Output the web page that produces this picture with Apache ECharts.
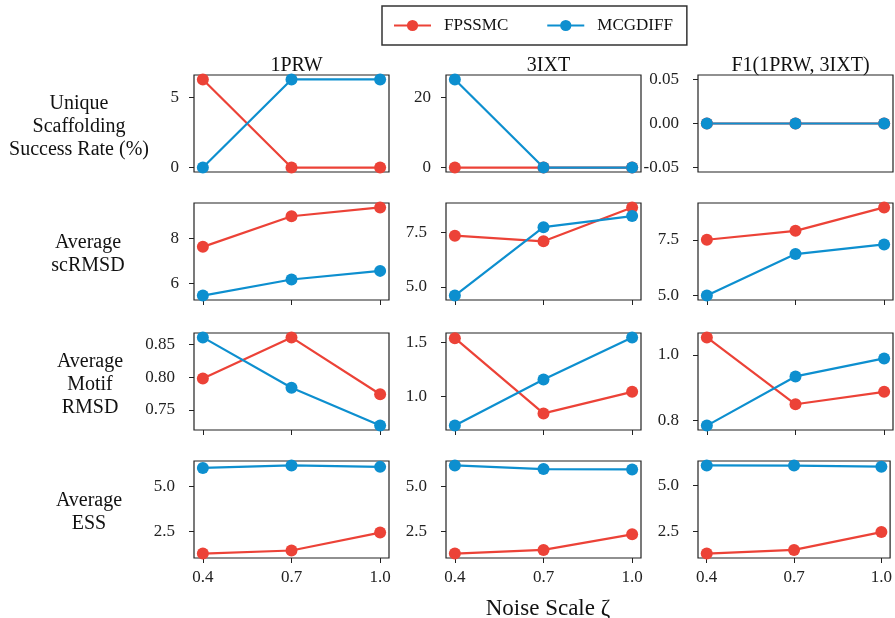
<!DOCTYPE html>
<html lang="en">

<head>
    <meta charset="UTF-8">
    <title>Noise scale comparison</title>
    <script src="https://cdn.jsdelivr.net/npm/echarts@6/dist/echarts.min.js"></script>
    <style>
        body {
            margin: 0;
            background-color: #fff;
        }

        #chart {
            width: 895px;
            height: 618px;
        }
    </style>
</head>

<body>
    <div id="chart"></div>
    <script>
        // Datos
        const noiseScale = [0.4, 0.7, 1.0];
        const targets = ['1PRW', '3IXT', 'F1(1PRW, 3IXT)'];
        const metricLabels = ['Unique\nScaffolding\nSuccess Rate (%)', 'Average\nscRMSD', 'Average\nMotif\nRMSD', 'Average\nESS'];

        // una fila por target: 1PRW, 3IXT, F1
        const fpssmcSuccess = [[6.25, 0, 0], [0, 0, 0], [0, 0, 0]];
        const mcgdiffSuccess = [[0, 6.25, 6.25], [25, 0, 0], [0, 0, 0]];
        const fpssmcScRmsd = [[7.62, 8.97, 9.36], [7.36, 7.10, 8.66], [7.50, 7.90, 8.95]];
        const mcgdiffScRmsd = [[5.47, 6.18, 6.56], [4.60, 7.75, 8.26], [5.00, 6.86, 7.29]];
        const fpssmcMotif = [[0.798, 0.861, 0.774], [1.543, 0.838, 1.04], [1.053, 0.849, 0.887]];
        const mcgdiffMotif = [[0.861, 0.784, 0.726], [0.724, 1.155, 1.55], [0.784, 0.934, 0.989]];
        const fpssmcEss = [[1.30, 1.47, 2.45], [1.29, 1.49, 2.35], [1.29, 1.49, 2.46]];
        const mcgdiffEss = [[5.99, 6.13, 6.05], [6.14, 5.94, 5.92], [6.09, 6.08, 6.02]];

        // marcas del eje y por fila / columna
        const yTicks = [
            [[0, 5], [0, 20], [-0.05, 0, 0.05]],
            [[6, 8], [5, 7.5], [5, 7.5]],
            [[0.75, 0.8, 0.85], [1.0, 1.5], [0.8, 1.0]],
            [[2.5, 5], [2.5, 5], [2.5, 5]]
        ];
        const yDecimals = [[0, 0, 2], [0, 1, 1], [2, 1, 1], [1, 1, 1]];

        const fpssmcRows = [fpssmcSuccess, fpssmcScRmsd, fpssmcMotif, fpssmcEss];
        const mcgdiffRows = [mcgdiffSuccess, mcgdiffScRmsd, mcgdiffMotif, mcgdiffEss];

        const RED = '#ec4237';
        const BLUE = '#0d8fcf';
        const FONT = 'Liberation Serif';
        const INK = '#222';

        const colLeft = [194, 446, 698];
        const colWidth = 195;
        const rowTop = [75, 203, 333, 461];
        const rowHeight = 97;
        const rowLabelX = [74, 83, 85, 84];

        var grids = [], xAxes = [], yAxes = [], series = [];
        var titles = [];

        targets.forEach(function (name, c) {
            titles.push({
                text: name,
                left: colLeft[c] + colWidth / 2,
                top: 51,
                textAlign: 'center',
                textStyle: { fontFamily: FONT, fontSize: 20, fontWeight: 'normal', color: '#111' }
            });
        });

        metricLabels.forEach(function (label, r) {
            var lines = label.split('\n').length;
            titles.push({
                text: label,
                left: rowLabelX[r],
                top: rowTop[r] + rowHeight / 2 - lines * 23 / 2 - 2,
                textAlign: 'center',
                textStyle: { fontFamily: FONT, fontSize: 20, fontWeight: 'normal', color: '#111', lineHeight: 23, align: 'center' }
            });
        });

        titles.push({
            text: 'Noise Scale ζ',
            left: 543,
            top: 592,
            textAlign: 'center',
            textStyle: { fontFamily: FONT, fontSize: 23, fontWeight: 'normal', color: '#111' }
        });

        for (var r = 0; r < 4; r++) {
            for (var c = 0; c < 3; c++) {
                var idx = grids.length;
                grids.push({
                    left: colLeft[c],
                    top: rowTop[r],
                    width: colWidth,
                    height: rowHeight,
                    show: true,
                    borderColor: INK,
                    borderWidth: 1.2,
                    backgroundColor: 'transparent'
                });
                xAxes.push({
                    type: 'value',
                    gridIndex: idx,
                    min: 0.37,
                    max: 1.03,
                    axisLine: { show: false },
                    splitLine: { show: false },
                    axisTick: { show: true, length: 5, customValues: noiseScale, lineStyle: { color: INK, width: 1 } },
                    axisLabel: {
                        show: r === 3,
                        customValues: noiseScale,
                        formatter: function (v) { return v.toFixed(1); },
                        fontFamily: FONT,
                        fontSize: 17,
                        color: INK,
                        margin: 11
                    }
                });
                var dec = yDecimals[r][c];
                yAxes.push({
                    type: 'value',
                    gridIndex: idx,
                    min: function (e) {
                        var span = e.max - e.min;
                        return span === 0 ? e.min - 0.055 : e.min - 0.05 * span;
                    },
                    max: function (e) {
                        var span = e.max - e.min;
                        return span === 0 ? e.max + 0.055 : e.max + 0.05 * span;
                    },
                    axisLine: { show: false },
                    splitLine: { show: false },
                    axisTick: { show: true, length: 5, customValues: yTicks[r][c], lineStyle: { color: INK, width: 1 } },
                    axisLabel: {
                        customValues: yTicks[r][c],
                        formatter: (function (d) {
                            return function (v) { return v.toFixed(d); };
                        })(dec),
                        fontFamily: FONT,
                        fontSize: 17,
                        color: INK,
                        margin: dec > 0 ? 19 : 15
                    }
                });
                [['FPSSMC', fpssmcRows[r][c], RED], ['MCGDIFF', mcgdiffRows[r][c], BLUE]].forEach(function (s) {
                    series.push({
                        name: s[0],
                        type: 'line',
                        xAxisIndex: idx,
                        yAxisIndex: idx,
                        data: noiseScale.map(function (x, i) { return [x, s[1][i]]; }),
                        symbol: 'circle',
                        symbolSize: 12,
                        clip: false,
                        lineStyle: { color: s[2], width: 2.2 },
                        itemStyle: { color: s[2] },
                        emphasis: { disabled: true }
                    });
                });
            }
        }

        var myChart = echarts.init(document.getElementById('chart'), null, { renderer: 'canvas' });

        var option = {
            animation: false,
            backgroundColor: '#fff',
            title: titles,
            legend: {
                data: ['FPSSMC', 'MCGDIFF'],
                left: 382,
                top: 6,
                padding: [11, 14, 11, 11],
                itemWidth: 37,
                itemHeight: 14,
                itemGap: 38,
                borderColor: '#333',
                borderWidth: 1.5,
                borderRadius: 0,
                textStyle: { fontFamily: FONT, fontSize: 17, color: '#111', padding: [0, 0, 0, 8] }
            },
            grid: grids,
            xAxis: xAxes,
            yAxis: yAxes,
            series: series
        };

        myChart.setOption(option);
    </script>
</body>

</html>
